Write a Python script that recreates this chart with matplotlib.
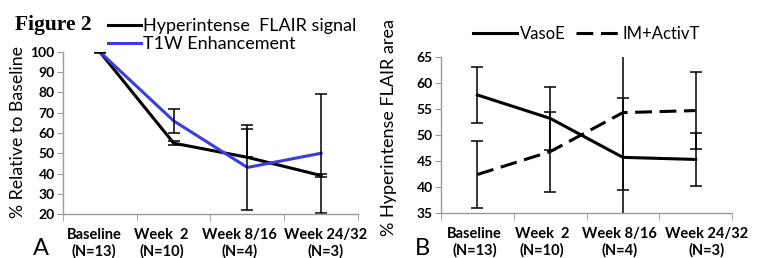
import matplotlib

matplotlib.use("Agg")
import matplotlib.pyplot as plt
import numpy as np
from matplotlib.transforms import ScaledTranslation

# x categories shared by both panels
CATEGORIES = ["Baseline\n(N=13)", "Week  2\n(N=10)", "Week 8/16\n(N=4)", "Week 24/32\n(N=3)"]

# panel A: % relative to baseline
FLAIR_PCT = [100, 55, 48, 39]
FLAIR_ERR_LO = [0.5, 1.0, 0.0, 0.7]
FLAIR_ERR_HI = [0.5, 1.0, 14.0, 0.7]
T1W_PCT = [100, 66, 43, 50]
T1W_ERR = [0.0, 6.0, 21.0, 29.5]

# panel B: % hyperintense FLAIR area
VASOE = [57.7, 53.2, 45.7, 45.3]
VASOE_ERR = [5.3, 6.0, 11.5, 5.1]
IMACT = [42.4, 46.8, 54.3, 54.7]
IMACT_ERR = [6.5, 7.7, 14.9, 7.4]

BLUE = "#3c3ce0"
GRAY = "#9a9a9a"
FONT = "Lato"

plt.rcParams.update({"font.family": FONT, "font.size": 10})


def style_axes(fig, ax, ylim, yticks, label_shift_px):
    x = np.arange(len(CATEGORIES))
    ax.set_xlim(-0.5, len(CATEGORIES) - 0.5)
    ax.set_ylim(*ylim)
    ax.set_yticks(yticks)
    ax.set_yticklabels([str(t) for t in yticks], fontweight="bold", fontsize=10)
    ax.set_xticks(x)
    ax.set_xticklabels(CATEGORIES, fontweight="bold", fontsize=10.5, linespacing=1.2)
    ax.set_xticks(np.arange(-0.5, len(CATEGORIES)), minor=True)
    ax.tick_params(axis="x", which="major", length=0, pad=10)
    ax.tick_params(axis="x", which="minor", length=5, color=GRAY, direction="out")
    ax.tick_params(axis="y", length=4, color=GRAY, direction="out", pad=2)
    # the category labels in the original are not exactly centred
    for lab, dx in zip(ax.get_xticklabels(), label_shift_px):
        lab.set_transform(lab.get_transform() + ScaledTranslation(dx / 100, 0, fig.dpi_scale_trans))
    for s in ("top", "right"):
        ax.spines[s].set_visible(False)
    for s in ("left", "bottom"):
        ax.spines[s].set_color(GRAY)
        ax.spines[s].set_linewidth(1.0)


fig = plt.figure(figsize=(7.61, 2.58), dpi=100)
x = np.arange(len(CATEGORIES))
ebar = dict(fmt="none", ecolor="black", elinewidth=1.1, capsize=4, capthick=1.1)

# ---- panel A ----
axA = fig.add_axes([0.0828, 0.1705, 0.3876, 0.628])
lA1, = axA.plot(x, FLAIR_PCT, color="black", lw=2.2, label="Hyperintense  FLAIR signal")
lA2, = axA.plot(x, T1W_PCT, color=BLUE, lw=2.2, label="T1W Enhancement")
axA.errorbar(x, FLAIR_PCT, yerr=[FLAIR_ERR_LO, FLAIR_ERR_HI], **ebar)
axA.errorbar(x, T1W_PCT, yerr=T1W_ERR, **ebar)
style_axes(fig, axA, (20, 100), list(range(20, 101, 10)), [-6, -12, -8, 4])
axA.set_ylabel("% Relative to Baseline", fontsize=12.8)
axA.yaxis.set_label_coords(-0.125, 0.506)
fig.legend(handles=[lA1, lA2], loc="upper left", bbox_to_anchor=(0.142, 0.93),
           frameon=False, fontsize=13, handlelength=1.85, handletextpad=0.1,
           labelspacing=0.12, borderaxespad=0, borderpad=0)

# ---- panel B ----
axB = fig.add_axes([0.5795, 0.1744, 0.3824, 0.6047])
lB1, = axB.plot(x, VASOE, color="black", lw=2.2, label="VasoE")
lB2, = axB.plot(x, IMACT, color="black", lw=2.2, ls=(0, (5.5, 2.5)), label="IM+ActivT")
axB.errorbar(x, VASOE, yerr=VASOE_ERR, **ebar)
axB.errorbar(x, IMACT, yerr=IMACT_ERR, **ebar)
style_axes(fig, axB, (35, 65), list(range(35, 66, 5)), [-3, -8, -3, 11])
axB.set_ylabel("% Hyperintense FLAIR area", fontsize=13)
axB.yaxis.set_label_coords(-0.151, 0.55)
fig.legend(handles=[lB1, lB2], loc="upper left", bbox_to_anchor=(0.622, 0.90),
           frameon=False, fontsize=12, ncol=2, handlelength=2.6, handletextpad=0.2,
           columnspacing=0.6, borderaxespad=0, borderpad=0)

fig.text(0.02, 0.885, "Figure 2", family="Liberation Serif", fontweight="bold", fontsize=15.5)
fig.text(0.043, 0.012, "A", fontsize=17)
fig.text(0.545, 0.012, "B", fontsize=17)

fig.savefig("out.png", dpi=100)
